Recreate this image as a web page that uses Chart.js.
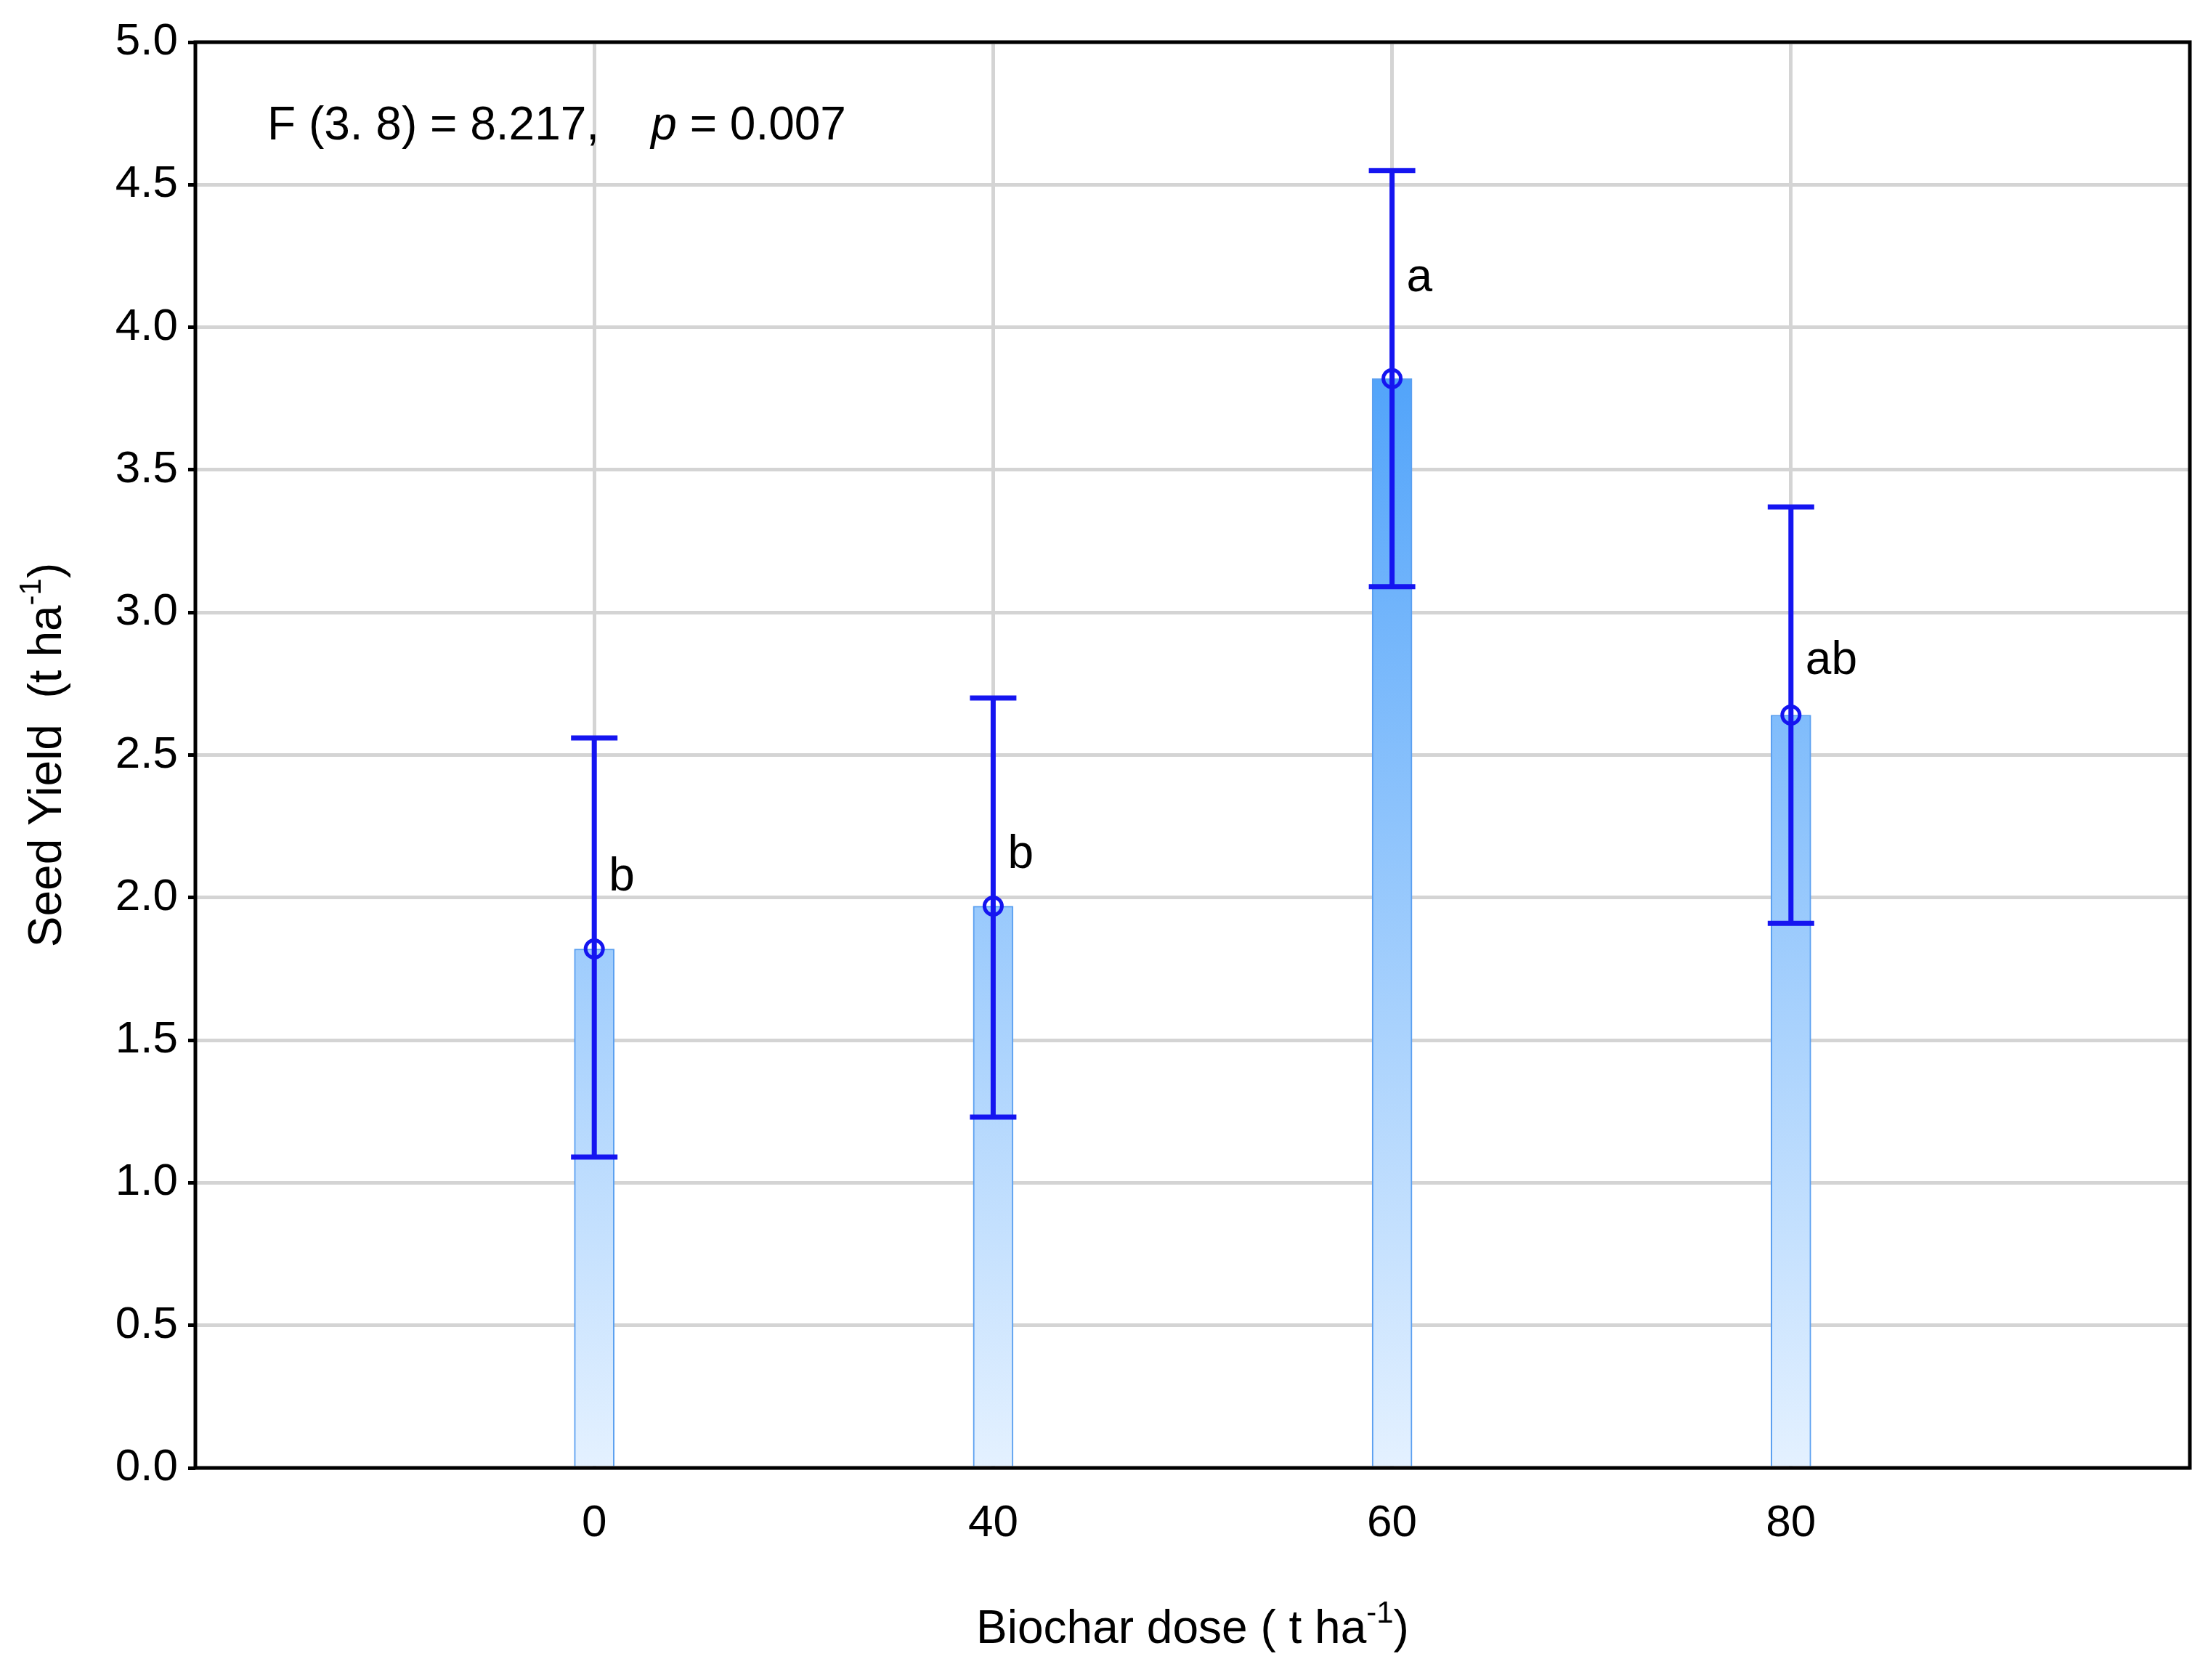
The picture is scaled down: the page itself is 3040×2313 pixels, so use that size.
<!DOCTYPE html>
<html><head><meta charset="utf-8">
<script src="https://cdn.jsdelivr.net/npm/chart.js@4/dist/chart.umd.min.js"></script>
<style>html,body{margin:0;padding:0;background:#fff}#w{width:3040px;height:2313px}</style>
</head><body><div id="w"><canvas id="c"></canvas></div>
<script>
const categories = ["0","40","60","80"];
const means = [1.82, 1.97, 3.82, 2.64];
const upper = [2.56, 2.70, 4.55, 3.37];
const lower = [1.09, 1.23, 3.09, 1.91];
const letters = ["b","b","a","ab"];
const letterY = [2.07, 2.15, 4.17, 2.83];
const yTicks = [0,0.5,1,1.5,2,2.5,3,3.5,4,4.5,5];

const FONT = "'Liberation Sans', Arial, sans-serif";
const BLUE = "#1515f0";
const ctx = document.getElementById('c').getContext('2d');

const extras = {
  id: 'extras',
  afterDatasetsDraw(chart) {
    const c = chart.ctx, xs = chart.scales.x, ys = chart.scales.y;
    c.save();
    c.strokeStyle = BLUE; c.lineWidth = 7;
    means.forEach((m, i) => {
      const x = xs.getPixelForValue(i);
      const yu = ys.getPixelForValue(upper[i]), yl = ys.getPixelForValue(lower[i]);
      c.beginPath();
      c.moveTo(x, yu); c.lineTo(x, yl);
      c.moveTo(x - 32, yu); c.lineTo(x + 32, yu);
      c.moveTo(x - 32, yl); c.lineTo(x + 32, yl);
      c.stroke();
    });
    c.fillStyle = '#000';
    c.font = '64px ' + FONT;
    c.textBaseline = 'middle'; c.textAlign = 'left';
    letters.forEach((t, i) => {
      c.fillText(t, xs.getPixelForValue(i) + 20, ys.getPixelForValue(letterY[i]));
    });
    c.restore();
  },
  afterDraw(chart) {
    const c = chart.ctx, a = chart.chartArea;
    c.save();
    c.strokeStyle = '#000'; c.lineWidth = 5;
    c.strokeRect(a.left, a.top, a.right - a.left, a.bottom - a.top);
    c.fillStyle = '#000';
    c.textBaseline = 'alphabetic';
    c.font = '64px ' + FONT;
    let s1 = 'F (3. 8) = 8.217,    ';
    let x = 368, y = 192;
    c.fillText(s1, x, y); x += c.measureText(s1).width;
    c.font = 'italic 64px ' + FONT;
    c.fillText('p', x, y); x += c.measureText('p').width;
    c.font = '64px ' + FONT;
    c.fillText(' = 0.007', x, y);
    const drawSup = (base, sup, cx, cy) => {
      c.font = '64px ' + FONT;
      const w1 = c.measureText(base).width;
      c.font = '42px ' + FONT;
      const w2 = c.measureText(sup).width;
      c.font = '64px ' + FONT;
      const w3 = c.measureText(')').width;
      let sx = cx - (w1 + w2 + w3) / 2;
      c.fillText(base, sx, cy); sx += w1;
      c.font = '42px ' + FONT; c.fillText(sup, sx, cy - 28); sx += w2;
      c.font = '64px ' + FONT; c.fillText(')', sx, cy);
    };
    drawSup('Biochar dose ( t ha', '-1', (a.left + a.right) / 2, 2262);
    c.save();
    c.translate(84, (a.top + a.bottom) / 2);
    c.rotate(-Math.PI / 2);
    drawSup('Seed Yield  (t ha', '-1', 0, 0);
    c.restore();
    c.restore();
  }
};

new Chart(ctx, {
  data: {
    datasets: [{
      type: 'bar',
      data: means.map((m, i) => ({x: i, y: m})),
      barThickness: 55,
      borderWidth: 2,
      borderColor: '#5a9ff0',
      backgroundColor: (context) => {
        const ch = context.chart, a = ch.chartArea;
        if (!a) return '#9cc9fb';
        const g = ch.ctx.createLinearGradient(0, ch.scales.y.getPixelForValue(3.82), 0, a.bottom);
        g.addColorStop(0, '#52a4fa');
        g.addColorStop(1, '#e4f1ff');
        return g;
      },
      order: 2
    }, {
      type: 'scatter',
      data: means.map((m, i) => ({x: i, y: m})),
      pointStyle: 'circle',
      pointRadius: 12,
      pointBorderWidth: 5,
      pointBorderColor: BLUE,
      pointBackgroundColor: 'rgba(0,0,0,0)',
      showLine: false,
      order: 0
    }]
  },
  options: {
    responsive: true, maintainAspectRatio: false, animation: false,
    devicePixelRatio: 1,
    layout: {padding: {left: 0, top: 58, right: 25, bottom: 0}},
    plugins: {legend: {display: false}, tooltip: {enabled: false}},
    scales: {
      x: {
        type: 'linear', min: -1, max: 4, offset: false,
        afterBuildTicks: (ax) => { ax.ticks = [0,1,2,3].map(v => ({value: v})); },
        afterFit: (ax) => { ax.height = 292; },
        grid: {offset: false, color: '#d4d4d4', lineWidth: 5, drawTicks: false},
        border: {display: false},
        ticks: {padding: 40, color: '#000', font: {size: 62, family: FONT},
          callback: (v) => categories[v] ?? ''}
      },
      y: {
        type: 'linear', min: 0, max: 5,
        afterBuildTicks: (ax) => { ax.ticks = yTicks.map(v => ({value: v})); },
        afterFit: (ax) => { ax.width = 269; },
        grid: {color: '#d4d4d4', lineWidth: 5, tickLength: 10, tickColor: '#000'},
        border: {display: false},
        ticks: {padding: 14, color: '#000', font: {size: 62, family: FONT},
          callback: (v) => v.toFixed(1)}
      }
    }
  },
  plugins: [extras]
});
</script></body></html>
